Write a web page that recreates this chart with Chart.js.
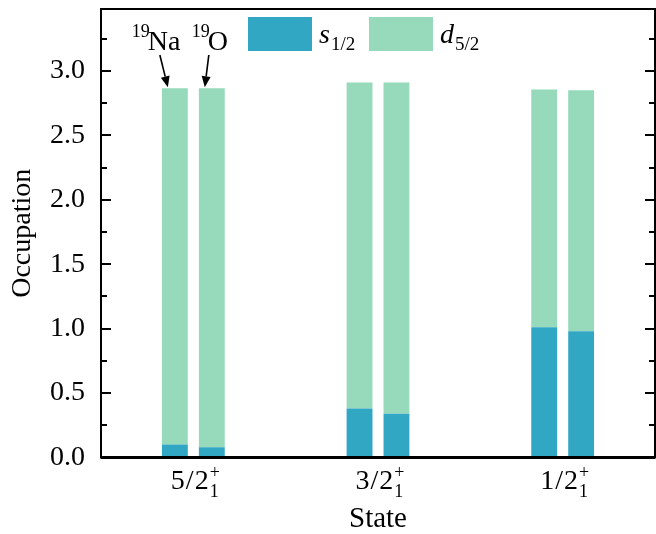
<!DOCTYPE html>
<html>
<head>
<meta charset="utf-8">
<script src="https://cdn.jsdelivr.net/npm/chart.js@4.4.0/dist/chart.umd.min.js"></script>
<style>
  html, body { margin: 0; padding: 0; background: #fff; }
  #wrap { width: 656px; height: 534px; }
</style>
</head>
<body>
<div id="wrap"><canvas id="occChart"></canvas></div>
<script>
// data
const states = ['5/2', '3/2', '1/2'];
const naS = [0.10, 0.38, 1.01];
const naD = [2.765, 2.53, 1.845];
const oS = [0.08, 0.34, 0.98];
const oD = [2.785, 2.57, 1.87];
const yMajor = [0, 0.5, 1.0, 1.5, 2.0, 2.5, 3.0];
const yMinor = [0.25, 0.75, 1.25, 1.75, 2.25, 2.75, 3.25];
const legendMain = ['s', 'd'];
const legendSub = ['1/2', '5/2'];

const BLUE = '#31a7c4';
const GREEN = '#96d9bb';
const SERIF = '"Liberation Serif", "DejaVu Serif", serif';

// frame, inward ticks, x labels, legend and arrows
const decor = {
    id: 'decor',
    afterDraw(chart) {
        const ctx = chart.ctx;
        const a = chart.chartArea;
        const x = chart.scales.x;
        const y = chart.scales.y;
        ctx.save();
        ctx.strokeStyle = '#000';
        ctx.lineWidth = 2;
        ctx.strokeRect(a.left, a.top, a.right - a.left, a.bottom - a.top);
        ctx.lineWidth = 3;
        ctx.beginPath();
        ctx.moveTo(a.left, a.bottom);
        ctx.lineTo(a.right, a.bottom);
        ctx.stroke();

        ctx.lineWidth = 2;
        ctx.beginPath();
        yMajor.forEach(v => {
            const py = Math.round(y.getPixelForValue(v));
            ctx.moveTo(a.left, py); ctx.lineTo(a.left + 10, py);
            ctx.moveTo(a.right, py); ctx.lineTo(a.right - 10, py);
        });
        yMinor.forEach(v => {
            const py = Math.round(y.getPixelForValue(v));
            ctx.moveTo(a.left, py); ctx.lineTo(a.left + 6, py);
            ctx.moveTo(a.right, py); ctx.lineTo(a.right - 6, py);
        });
        ctx.stroke();

        // category labels like 5/2 with + and 1
        ctx.fillStyle = '#000';
        ctx.textBaseline = 'alphabetic';
        ctx.textAlign = 'left';
        states.forEach((s, i) => {
            const px = x.getPixelForValue(i);
            ctx.font = '28px ' + SERIF;
            ctx.letterSpacing = '1px';
            const w = ctx.measureText(s).width;
            ctx.letterSpacing = '0px';
            ctx.font = '18px ' + SERIF;
            const ws = ctx.measureText('+').width;
            const start = px - (w + ws) / 2 + 2;
            ctx.font = '28px ' + SERIF;
            ctx.letterSpacing = '1px';
            ctx.fillText(s, start, 489);
            ctx.letterSpacing = '0px';
            ctx.font = '18px ' + SERIF;
            ctx.fillText('+', start + w, 478);
            ctx.fillText('1', start + w, 497);
        });

        // legend
        const boxes = [[248, BLUE], [369, GREEN]];
        boxes.forEach((b, i) => {
            ctx.fillStyle = b[1];
            ctx.fillRect(b[0], 17, 64, 34);
            ctx.fillStyle = '#000';
            ctx.font = 'italic 28px ' + SERIF;
            const tx = b[0] + 71;
            ctx.fillText(legendMain[i], tx, 43);
            const mw = ctx.measureText(legendMain[i]).width;
            ctx.font = '19px ' + SERIF;
            ctx.fillText(legendSub[i], tx + mw + 1, 50);
        });

        // nucleus labels and arrows
        const na = chart.getDatasetMeta(1).data[0];
        const ox = chart.getDatasetMeta(3).data[0];
        ctx.font = '18px ' + SERIF;
        ctx.fillText('19', na.x - 43, 37);
        ctx.fillText('19', ox.x - 20, 37);
        ctx.font = '28px ' + SERIF;
        ctx.fillText('Na', na.x - 27, 50);
        ctx.fillText('O', ox.x - 4, 50);
        arrow(ctx, na.x - 15, 55, na.x - 7, na.y - 1);
        arrow(ctx, ox.x - 3, 55, ox.x - 7, ox.y - 1);
        ctx.restore();
    }
};

function arrow(ctx, x1, y1, x2, y2) {
    const ang = Math.atan2(y2 - y1, x2 - x1);
    const len = 11, hw = 4.5;
    const bx = x2 - len * Math.cos(ang), by = y2 - len * Math.sin(ang);
    ctx.lineWidth = 1.6;
    ctx.beginPath();
    ctx.moveTo(x1, y1);
    ctx.lineTo(bx, by);
    ctx.stroke();
    ctx.beginPath();
    ctx.moveTo(x2, y2);
    ctx.lineTo(bx + hw * Math.sin(ang), by - hw * Math.cos(ang));
    ctx.lineTo(bx - hw * Math.sin(ang), by + hw * Math.cos(ang));
    ctx.closePath();
    ctx.fill();
}

const barStyle = { categoryPercentage: 0.4, barPercentage: 0.7, borderWidth: 0 };

new Chart(document.getElementById('occChart'), {
    type: 'bar',
    data: {
        labels: states,
        datasets: [
            { label: 's1/2', stack: 'Na', data: naS, backgroundColor: BLUE, ...barStyle },
            { label: 'd5/2', stack: 'Na', data: naD, backgroundColor: GREEN, ...barStyle },
            { label: 's1/2', stack: 'O', data: oS, backgroundColor: BLUE, ...barStyle },
            { label: 'd5/2', stack: 'O', data: oD, backgroundColor: GREEN, ...barStyle }
        ]
    },
    options: {
        responsive: true,
        maintainAspectRatio: false,
        animation: false,
        layout: { padding: { left: 0, right: 1, top: 9, bottom: 0 } },
        plugins: {
            legend: { display: false },
            tooltip: { enabled: false }
        },
        scales: {
            x: {
                stacked: true,
                grid: { display: false, drawTicks: false },
                border: { display: false },
                ticks: { display: false },
                title: {
                    display: true,
                    text: 'State',
                    color: '#000',
                    font: { family: SERIF, size: 29, lineHeight: 1 },
                    padding: 0
                },
                afterFit(s) { s.height = 76.5; }
            },
            y: {
                stacked: true,
                min: 0,
                max: 3.48,
                grid: { display: false, drawTicks: false },
                border: { display: false },
                ticks: {
                    color: '#000',
                    padding: 16,
                    font: { family: SERIF, size: 28 },
                    callback: v => v.toFixed(1)
                },
                afterBuildTicks(s) { s.ticks = yMajor.map(v => ({ value: v })); },
                title: {
                    display: true,
                    text: 'Occupation',
                    color: '#000',
                    font: { family: SERIF, size: 28, lineHeight: 1.2 },
                    padding: { top: 6, bottom: 0 }
                },
                afterFit(s) { s.width = 101; s.paddingTop = 0; s.paddingBottom = 0; }
            }
        }
    },
    plugins: [decor]
});
</script>
</body>
</html>
